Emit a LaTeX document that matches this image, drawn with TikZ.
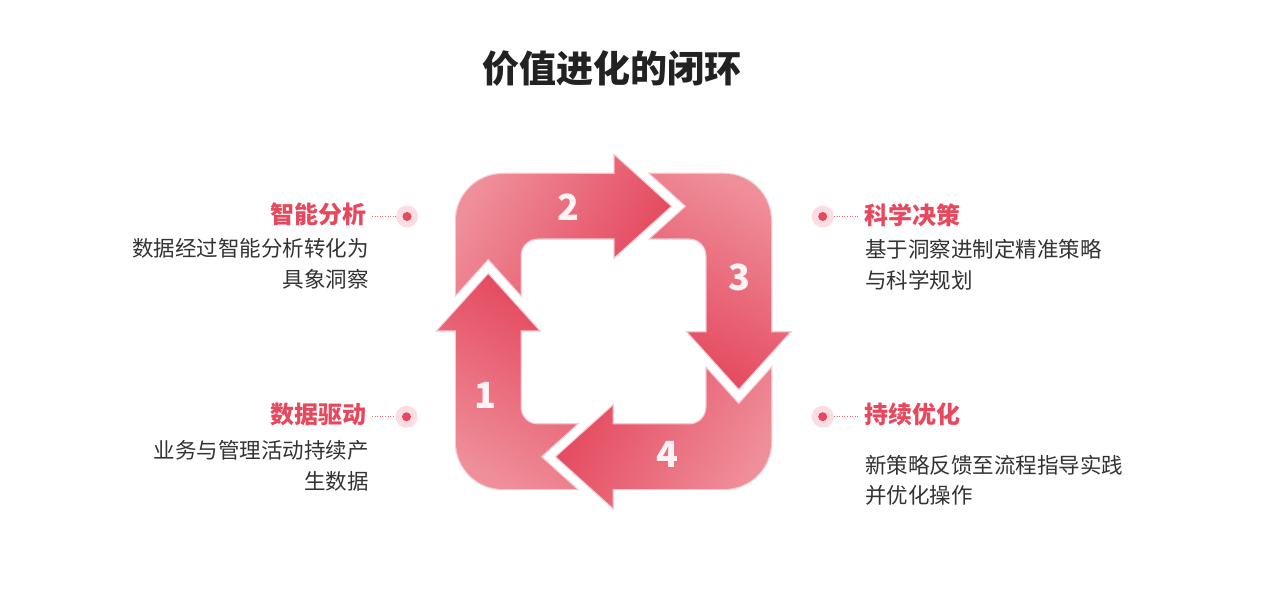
\documentclass[tikz,border=0pt]{standalone}
\usepackage{fontspec}
\setmainfont{Noto Sans CJK SC}
\definecolor{accent}{HTML}{E8485E}
\definecolor{arrowdark}{HTML}{E4475D}
\definecolor{arrowlight}{HTML}{EF8F9A}
\definecolor{arrowglow}{HTML}{F7C9D0}
\definecolor{dotbg}{HTML}{FBDDE2}
\definecolor{txt}{HTML}{333333}
\definecolor{ttl}{HTML}{222222}
\definecolor{dotline}{HTML}{E86A7C}
\newcommand{\ringarrow}{(-125.25,57) -- (-74.75,1) -- (-93,1) -- (-93,-76) arc[start angle=180,end angle=270,radius=17] -- (-37.2,-93) -- (-73,-125.25) -- (-37.2,-157.5) -- (-110.5,-157.5) arc[start angle=270,end angle=180,radius=47] -- (-157.5,1) -- (-175.75,1) -- cycle}
\tikzset{
  heading/.style={inner sep=0pt, text=accent, font=\bfseries\fontsize{24}{28}\selectfont},
  desc/.style={inner sep=0pt, text=txt, font=\fontsize{21.5}{26}\selectfont},
  numlabel/.style={inner sep=0pt, anchor=base, text=white, text opacity=0.92, font=\bfseries\fontsize{36}{40}\selectfont},
  dotouter/.style={circle, inner sep=0pt, minimum size=22pt, fill=dotbg},
  dotinner/.style={circle, inner sep=0pt, minimum size=9pt, fill=accent},
  leader/.style={draw=dotline, line width=1pt, dash pattern=on 1pt off 1.6pt},
  arrowglowline/.style={draw=arrowglow, line width=2.5pt, line join=miter}
}
\begin{document}
\begin{tikzpicture}[x=1pt,y=1pt]
\useasboundingbox (0,0) rectangle (1268,605);
\fill[white] (0,0) rectangle (1268,605);
% title
\node[anchor=base, inner sep=0pt, text=ttl, font=\bfseries\fontsize{37}{44}\selectfont] (title) at (611.7,522.5) {价值进化的闭环};
% ring arrows
\foreach \k/\ang in {0/-30, 1/-120, 2/150, 3/60} {
  \begin{scope}[shift={(613.5,273.5)}, rotate=-90*\k]
    \path[arrowglowline] \ringarrow;
    \shade[top color=arrowdark, bottom color=arrowlight, shading angle=\ang] \ringarrow;
  \end{scope}
}
% numbers
\node[numlabel] (n1) at (485.7,196.5) {1};
\node[numlabel] (n2) at (568.3,384.8) {2};
\node[numlabel] (n3) at (739,314.2) {3};
\node[numlabel] (n4) at (667.3,137.5) {4};
% left top
\node[heading, anchor=base east] (l1h) at (367,381) {智能分析};
\node[desc, anchor=base east] (l1a) at (369,348.8) {数据经过智能分析转化为};
\node[desc, anchor=base east] (l1b) at (369,317.8) {具象洞察};
\node[dotouter] (d1) at (407,388.5) {};
\node[dotinner] (d1c) at (d1) {};
\draw[leader, shorten <=5pt] (l1h.east |- d1) -- (d1.west);
% left bottom
\node[heading, anchor=base east] (l2h) at (367,181) {数据驱动};
\node[desc, anchor=base east] (l2a) at (369,146.1) {业务与管理活动持续产};
\node[desc, anchor=base east] (l2b) at (369,115.1) {生数据};
\node[dotouter] (d2) at (406.5,188.2) {};
\node[dotinner] (d2c) at (d2) {};
\draw[leader, shorten <=5pt] (l2h.east |- d2) -- (d2.west);
% right top
\node[heading, anchor=base west] (r1h) at (864,380) {科学决策};
\node[desc, anchor=base west] (r1a) at (865,347.8) {基于洞察进制定精准策略};
\node[desc, anchor=base west] (r1b) at (865,316.1) {与科学规划};
\node[dotouter] (d3) at (822.7,388.5) {};
\node[dotinner] (d3c) at (d3) {};
\draw[leader, shorten >=6pt] (d3.east) -- (r1h.west |- d3);
% right bottom
\node[heading, anchor=base west] (r2h) at (864,181) {持续优化};
\node[desc, anchor=base west] (r2a) at (865,131.8) {新策略反馈至流程指导实践};
\node[desc, anchor=base west] (r2b) at (865,101.1) {并优化操作};
\node[dotouter] (d4) at (822.7,188.3) {};
\node[dotinner] (d4c) at (d4) {};
\draw[leader, shorten >=6pt] (d4.east) -- (r2h.west |- d4);
\end{tikzpicture}
\end{document}
